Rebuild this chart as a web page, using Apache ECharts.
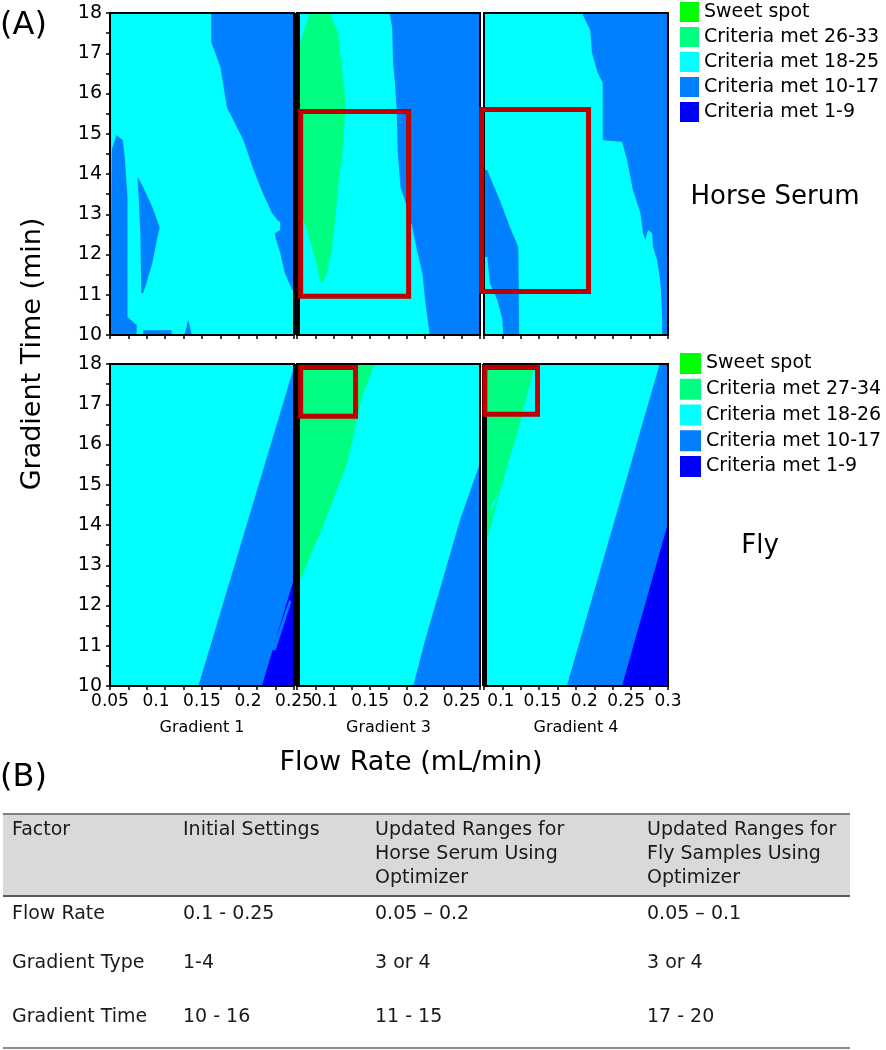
<!DOCTYPE html>
<html>
<head>
<meta charset="utf-8">
<script src="https://cdn.jsdelivr.net/npm/echarts@6/dist/echarts.min.js"></script>
<style>
  html, body { margin: 0; padding: 0; background: #fff; }
  #chart { width: 886px; height: 1050px; }
</style>
</head>
<body>
<div id="chart"></div>
<script>
// contour level colours: sweet spot, top band, 18-25, 10-17, 1-9
const levelColors = ['#00ff00', '#00ff80', '#00ffff', '#0080ff', '#0000ff'];
const serumLegend = ['Sweet spot', 'Criteria met 26-33', 'Criteria met 18-25', 'Criteria met 10-17', 'Criteria met 1-9'];
const flyLegend = ['Sweet spot', 'Criteria met 27-34', 'Criteria met 18-26', 'Criteria met 10-17', 'Criteria met 1-9'];
const gradientNames = ['Gradient 1', 'Gradient 3', 'Gradient 4'];

// flow rate axis of each gradient panel
const flowRanges = [[0.05, 0.25], [0.07, 0.27], [0.08, 0.30]];
const flowTicks = [
  [0.05, 0.07, 0.09, 0.11, 0.13, 0.15, 0.17, 0.19, 0.21, 0.23, 0.25],
  [0.07, 0.09, 0.11, 0.13, 0.15, 0.17, 0.19, 0.21, 0.23, 0.25, 0.27],
  [0.08, 0.102, 0.124, 0.146, 0.168, 0.19, 0.212, 0.234, 0.256, 0.278, 0.3]
];
const flowLabels = [
  [0.05, 0.1, 0.15, 0.2, 0.25],
  [0.1, 0.15, 0.2, 0.25],
  [0.1, 0.15, 0.2, 0.25, 0.3]
];
const timeRange = [10, 18];

// contour regions, [flow rate, gradient time] outlines, level = index in levelColors
const serumG1 = [
  { level: 3, pts: [[0.160, 18], [0.25, 18], [0.25, 11.12], [0.248, 11.12], [0.240, 11.54], [0.235, 12.04], [0.230, 12.41], [0.229, 12.53], [0.235, 12.61], [0.235, 12.81], [0.232, 12.86], [0.226, 13.03], [0.216, 13.53], [0.205, 14.17], [0.195, 14.84], [0.184, 15.34], [0.177, 15.66], [0.170, 16.66], [0.160, 17.28]] },
  { level: 3, pts: [[0.05, 12.53], [0.051, 12.61], [0.052, 14.6], [0.057, 14.97], [0.064, 14.84], [0.066, 14.42], [0.069, 13.43], [0.069, 10.45], [0.079, 10.25], [0.079, 10], [0.05, 10]] },
  { level: 3, pts: [[0.080, 13.93], [0.086, 13.68], [0.096, 13.18], [0.104, 12.68], [0.101, 12.36], [0.096, 11.79], [0.089, 11.24], [0.086, 11.04], [0.084, 11.04], [0.083, 12.53]] },
  { level: 3, pts: [[0.086, 10], [0.086, 10.12], [0.117, 10.12], [0.117, 10]] },
  { level: 3, pts: [[0.131, 10], [0.135, 10.37], [0.139, 10]] }
];
const serumG3 = [
  { level: 1, pts: [[0.084, 18], [0.106, 18], [0.115, 17.5], [0.119, 16.66], [0.123, 15.84], [0.123, 15.59], [0.120, 14.6], [0.115, 13.68], [0.112, 12.93], [0.108, 12.11], [0.103, 11.54], [0.098, 11.29], [0.095, 11.37], [0.092, 11.69], [0.088, 12.04], [0.084, 12.36], [0.081, 12.61], [0.076, 12.93], [0.07, 13.03], [0.07, 17.2], [0.073, 17.25]] },
  { level: 3, pts: [[0.171, 18], [0.27, 18], [0.27, 10], [0.215, 10], [0.210, 10.87], [0.207, 11.54], [0.201, 12.11], [0.196, 12.68], [0.188, 13.35], [0.183, 13.68], [0.180, 14.6], [0.179, 15.59], [0.177, 16.26], [0.175, 16.76], [0.174, 17.65]] }
];
const serumG4 = [
  { level: 3, pts: [[0.195, 18], [0.3, 18], [0.3, 10], [0.293, 10], [0.293, 10.45], [0.291, 11.29], [0.287, 11.86], [0.282, 12.19], [0.281, 12.53], [0.276, 12.61], [0.273, 12.36], [0.270, 12.53], [0.267, 13.03], [0.258, 13.6], [0.251, 14.35], [0.245, 14.8], [0.222, 14.84], [0.222, 16.26], [0.216, 16.51], [0.209, 17.01], [0.207, 17.58], [0.197, 18]] },
  { level: 3, pts: [[0.08, 14.1], [0.084, 14.1], [0.087, 13.93], [0.099, 13.35], [0.111, 12.68], [0.121, 12.19], [0.122, 10], [0.103, 10], [0.102, 10.37], [0.096, 10.87], [0.087, 11.29], [0.084, 11.94], [0.08, 11.94]] }
];
const flyG1 = [
  { level: 3, pts: [[0.146, 10], [0.25, 10], [0.25, 17.93]] },
  { level: 4, pts: [[0.215, 10], [0.25, 10], [0.25, 12.68]] },
  { level: 3, pts: [[0.226, 10.89], [0.245, 12.14], [0.247, 12.09], [0.230, 10.89]] }
];
const flyG3 = [
  { level: 1, pts: [[0.07, 18], [0.155, 18], [0.141, 17.18], [0.125, 15.54], [0.097, 13.88], [0.07, 12.46]] },
  { level: 3, pts: [[0.197, 10], [0.27, 10], [0.27, 15.54], [0.248, 14.12], [0.229, 12.63], [0.210, 11.14]] }
];
const flyG4 = [
  { level: 1, pts: [[0.08, 18], [0.141, 18], [0.121, 16.36], [0.103, 15.12], [0.087, 13.88], [0.08, 13.33]] },
  { level: 2, pts: [[0.103, 14.94], [0.114, 15.54], [0.116, 15.57], [0.106, 15.0]] },
  { level: 2, pts: [[0.087, 14.37], [0.096, 14.80], [0.097, 14.77], [0.090, 14.37]] },
  { level: 3, pts: [[0.179, 10], [0.3, 10], [0.3, 18], [0.29, 18]] },
  { level: 4, pts: [[0.245, 10], [0.3, 10], [0.3, 14.05]] }
];

// optimizer ranges (red boxes): [flow from, time from, flow to, time to]
const serumBoxes = [null, [0.074, 10.96, 0.192, 15.55], [0.077, 11.08, 0.205, 15.6]];
const flyBoxes = [null, [0.074, 16.70, 0.134, 17.91], [0.081, 16.75, 0.144, 17.91]];

const tableHeader = [
  ['Factor'],
  ['Initial Settings'],
  ['Updated Ranges for', 'Horse Serum Using', 'Optimizer'],
  ['Updated Ranges for', 'Fly Samples Using', 'Optimizer']
];
const tableRows = [
  ['Flow Rate', '0.1 - 0.25', '0.05 \u2013 0.2', '0.05 \u2013 0.1'],
  ['Gradient Type', '1-4', '3 or 4', '3 or 4'],
  ['Gradient Time', '10 - 16', '11 - 15', '17 - 20']
];

const FONT = 'DejaVu Sans';
const panelLeft = [110, 297, 484];
const panelWidth = [184, 183, 184];
const rowTop = [13, 364];
const rows = [[serumG1, serumG3, serumG4], [flyG1, flyG3, flyG4]];
const boxes = [serumBoxes, flyBoxes];

const grids = [], xAxes = [], yAxes = [], series = [];

rows.forEach(function (panels, r) {
  panels.forEach(function (regions, c) {
    const g = r * 3 + c;
    const xr = flowRanges[c];
    const thick = c > 0 && !(r === 0 && c === 2);
    grids.push({
      left: panelLeft[c], top: rowTop[r], width: panelWidth[c], height: 322,
      show: true, backgroundColor: 'transparent', borderColor: '#000', borderWidth: 2, z: 10,
      outerBoundsMode: 'none'
    });
    xAxes.push({
      gridIndex: g, type: 'value', min: xr[0], max: xr[1], z: 11,
      axisLine: { show: true, onZero: false, lineStyle: { color: '#000', width: 2 } },
      axisTick: { show: true, customValues: flowTicks[c], length: 4, lineStyle: { color: '#000', width: 1.5 } },
      axisLabel: { show: r === 1, customValues: flowLabels[c], fontFamily: FONT, fontSize: 17, color: '#000', margin: 7 },
      splitLine: { show: false },
      name: r === 1 ? gradientNames[c] : '',
      nameLocation: 'middle', nameGap: 34,
      nameTextStyle: { fontFamily: FONT, fontSize: 16, color: '#000' }
    });
    yAxes.push({
      gridIndex: g, type: 'value', min: timeRange[0], max: timeRange[1], interval: 1, z: 11,
      axisLine: { show: c === 0 || thick, onZero: false, lineStyle: { color: '#000', width: c === 0 ? 2 : 5, cap: 'butt' } },
      axisTick: { show: c === 0, length: 4, lineStyle: { color: '#000', width: 1.5 } },
      minorTick: { show: c === 0, splitNumber: 2, length: 4, lineStyle: { color: '#000', width: 1.5 } },
      axisLabel: { show: c === 0, fontFamily: FONT, fontSize: 19, color: '#000', margin: 8 },
      splitLine: { show: false },
      minorSplitLine: { show: false }
    });

    // cyan background of the panel, then the other bands on top
    const regs = [{ level: 2, pts: [[xr[0], timeRange[0]], [xr[1], timeRange[0]], [xr[1], timeRange[1]], [xr[0], timeRange[1]]] }].concat(regions);
    series.push({
      type: 'custom', xAxisIndex: g, yAxisIndex: g, silent: true, clip: true, z: 2,
      data: regs.map(function (reg) { return reg.pts[0]; }),
      renderItem: function (params, api) {
        const reg = regs[params.dataIndex];
        return {
          type: 'polygon',
          shape: { points: reg.pts.map(function (p) { return api.coord(p); }) },
          style: { fill: levelColors[reg.level] }
        };
      }
    });

    const box = boxes[r][c];
    if (box) {
      series.push({
        type: 'custom', xAxisIndex: g, yAxisIndex: g, silent: true, clip: false, z: 20,
        encode: { x: [0, 2], y: [1, 3] },
        data: [box],
        renderItem: function (params, api) {
          const p0 = api.coord([api.value(0), api.value(3)]);
          const p1 = api.coord([api.value(2), api.value(1)]);
          return {
            type: 'rect',
            shape: { x: p0[0], y: p0[1], width: p1[0] - p0[0], height: p1[1] - p0[1] },
            style: { fill: 'none', stroke: '#c00000', lineWidth: 5 }
          };
        }
      });
    }
  });
});

// legend-only series
const legendNames = serumLegend.concat(flyLegend.filter(function (n) { return serumLegend.indexOf(n) < 0; }));
legendNames.forEach(function (name) {
  const i = serumLegend.indexOf(name) >= 0 ? serumLegend.indexOf(name) : flyLegend.indexOf(name);
  series.push({ type: 'scatter', name: name, data: [], xAxisIndex: 0, yAxisIndex: 0, itemStyle: { color: levelColors[i], opacity: 1 } });
});

const legendText = { fontFamily: FONT, fontSize: 19, color: '#000' };

const graphics = [
  { type: 'text', x: 0, y: 26, style: { text: '(A)', fontFamily: FONT, fontSize: 32, fill: '#000', verticalAlign: 'middle' } },
  { type: 'text', x: 0, y: 778, style: { text: '(B)', fontFamily: FONT, fontSize: 32, fill: '#000', verticalAlign: 'middle' } },
  { type: 'text', x: 775, y: 197, style: { text: 'Horse Serum', fontFamily: FONT, fontSize: 26, fill: '#000', align: 'center', verticalAlign: 'middle' } },
  { type: 'text', x: 760, y: 546, style: { text: 'Fly', fontFamily: FONT, fontSize: 26, fill: '#000', align: 'center', verticalAlign: 'middle' } },
  { type: 'text', x: 411, y: 763, style: { text: 'Flow Rate (mL/min)', fontFamily: FONT, fontSize: 27, fill: '#000', align: 'center', verticalAlign: 'middle' } },
  { type: 'text', x: 33, y: 354, rotation: Math.PI / 2, style: { text: 'Gradient Time (min)', fontFamily: FONT, fontSize: 27, fill: '#000', align: 'center', verticalAlign: 'middle' } },
  // table (B)
  { type: 'rect', shape: { x: 3, y: 815, width: 847, height: 81 }, style: { fill: '#d9d9d9' } },
  { type: 'line', shape: { x1: 3, y1: 814, x2: 850, y2: 814 }, style: { stroke: '#7f7f7f', lineWidth: 2 } },
  { type: 'line', shape: { x1: 3, y1: 896, x2: 850, y2: 896 }, style: { stroke: '#595959', lineWidth: 2 } },
  { type: 'line', shape: { x1: 3, y1: 1048, x2: 850, y2: 1048 }, style: { stroke: '#8c8c8c', lineWidth: 2 } }
];
const colX = [12, 183, 375, 647];
const rowY = [914, 963, 1017];
tableHeader.forEach(function (lines, c) {
  graphics.push({ type: 'text', x: colX[c], y: 818, style: { text: lines.join('\n'), lineHeight: 24, fontFamily: FONT, fontSize: 19, fill: '#1a1a1a', verticalAlign: 'top' } });
});
tableRows.forEach(function (row, r) {
  row.forEach(function (cell, c) {
    graphics.push({ type: 'text', x: colX[c], y: rowY[r], style: { text: cell, fontFamily: FONT, fontSize: 19, fill: '#1a1a1a', verticalAlign: 'middle' } });
  });
});

const chart = echarts.init(document.getElementById('chart'), null, { renderer: 'canvas' });
chart.setOption({
  animation: false,
  backgroundColor: '#fff',
  grid: grids,
  xAxis: xAxes,
  yAxis: yAxes,
  legend: [
    { orient: 'vertical', left: 680, top: 2, padding: 0, itemWidth: 19, itemHeight: 20, itemGap: 5, icon: 'rect', selectedMode: false, data: serumLegend, textStyle: legendText },
    { orient: 'vertical', left: 680, top: 353, padding: 0, itemWidth: 21, itemHeight: 21, itemGap: 4.75, icon: 'rect', selectedMode: false, data: flyLegend, textStyle: legendText }
  ],
  graphic: { elements: graphics },
  series: series
});
</script>
</body>
</html>
